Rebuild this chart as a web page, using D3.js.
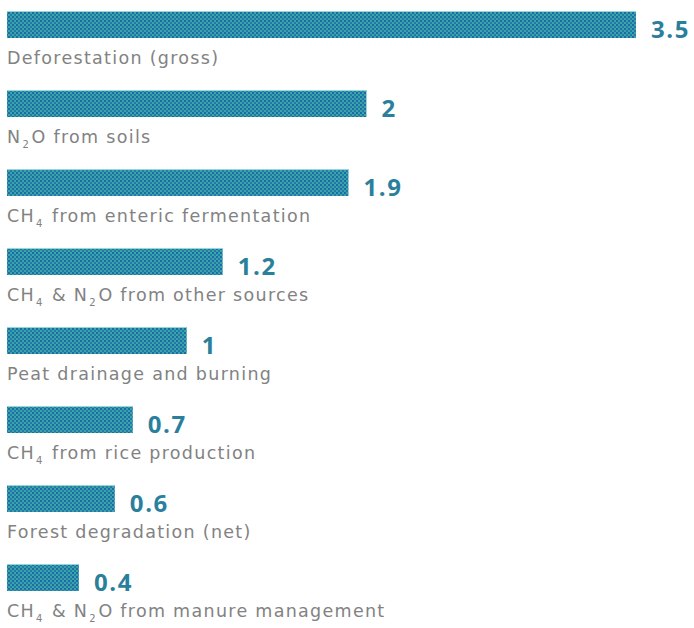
<!DOCTYPE html>
<html>
<head>
<meta charset="utf-8">
<script src="https://cdn.jsdelivr.net/npm/d3@7"></script>
<style>
  html, body { margin: 0; padding: 0; background: #ffffff; }
  svg { display: block; }
</style>
</head>
<body>
<svg id="chart" width="694" height="628"></svg>
<script>
// Data (labels use _n to mark a subscript digit)
const categories = [
  "Deforestation (gross)",
  "N_2O from soils",
  "CH_4 from enteric fermentation",
  "CH_4 & N_2O from other sources",
  "Peat drainage and burning",
  "CH_4 from rice production",
  "Forest degradation (net)",
  "CH_4 & N_2O from manure management"
];
const values = [3.5, 2, 1.9, 1.2, 1, 0.7, 0.6, 0.4];
const valueLabels = ["3.5", "2", "1.9", "1.2", "1", "0.7", "0.6", "0.4"];

const svg = d3.select("#chart");

// dithered teal pattern
const defs = svg.append("defs");
const pat = defs.append("pattern")
  .attr("id", "dither")
  .attr("patternUnits", "userSpaceOnUse")
  .attr("width", 4).attr("height", 4);
pat.append("rect").attr("width", 4).attr("height", 4).attr("fill", "#38a6a8");
pat.append("rect").attr("x", 0).attr("y", 0).attr("width", 2).attr("height", 2).attr("fill", "#1f6aa6");
pat.append("rect").attr("x", 2).attr("y", 2).attr("width", 2).attr("height", 2).attr("fill", "#2479a8");

const x = d3.scaleLinear().domain([0, 3.5]).range([7, 636]);
const y = d3.scaleBand()
  .domain(categories)
  .range([11, 591])
  .paddingInner(0.658)
  .paddingOuter(0)
  .align(0);

const rows = svg.selectAll("g.row")
  .data(categories.map((c, i) => ({ c, v: values[i], lab: valueLabels[i] })))
  .join("g").attr("class", "row");

rows.append("rect")
  .attr("x", x(0))
  .attr("y", d => y(d.c))
  .attr("width", d => x(d.v) - x(0))
  .attr("height", y.bandwidth())
  .attr("fill", "url(#dither)");

rows.append("rect")
  .attr("x", x(0))
  .attr("y", d => y(d.c))
  .attr("width", d => x(d.v) - x(0))
  .attr("height", 1)
  .attr("fill", "#9ad6da");

rows.append("text")
  .attr("x", d => x(d.v) + 15)
  .attr("y", d => y(d.c) + y.bandwidth())
  .attr("font-family", "'Open Sans', 'DejaVu Sans', sans-serif")
  .attr("font-weight", "bold")
  .attr("font-size", 24)
  .attr("letter-spacing", "1.6px")
  .attr("fill", "#2a7f9c")
  .text(d => d.lab);

const labels = rows.append("text")
  .attr("x", x(0))
  .attr("y", d => y(d.c) + y.bandwidth() + 26)
  .attr("font-family", "'DejaVu Sans', sans-serif")
  .attr("font-size", 17.5)
  .attr("letter-spacing", "1.3px")
  .attr("fill", "#828282");

labels.each(function(d) {
  const t = d3.select(this);
  const parts = d.c.split(/_(\d)/);
  let shift = 0;
  parts.forEach((p, i) => {
    if (p === "") return;
    if (i % 2 === 1) {
      t.append("tspan").attr("font-size", 10).attr("dy", 5).attr("dx", 1).text(p);
      shift = -5;
    } else {
      t.append("tspan").attr("dy", shift).attr("dx", shift ? 1.5 : 0).text(p);
      shift = 0;
    }
  });
});
</script>
</body>
</html>
